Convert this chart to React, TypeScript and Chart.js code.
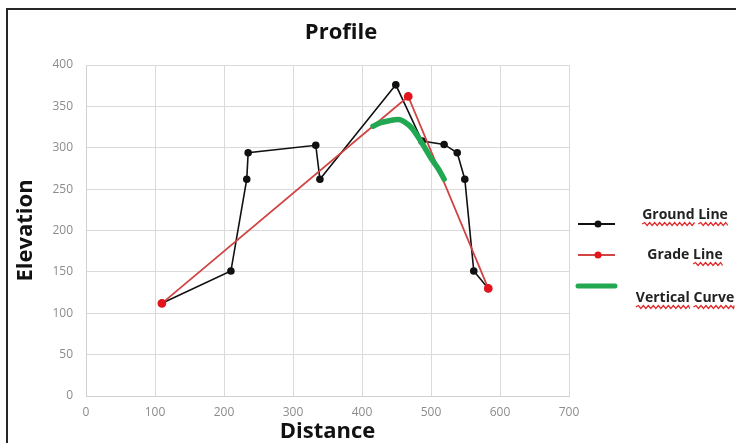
import React, { useEffect, useRef } from "react";
import { Chart, registerables } from "chart.js";

Chart.register(...registerables);

const chartTitle = "Profile";
const xAxisTitle = "Distance";
const yAxisTitle = "Elevation";
const legendLabels = ["Ground Line", "Grade Line", "Vertical Curve"];
// words flagged by the spell-checker (wavy red underline) in each legend label
const legendFlagged = [["Ground", "Line"], ["Line"], ["Vertical", "Curve"]];

const groundX = [110, 210, 233, 235, 333, 339, 449, 487, 519, 538, 549, 562, 583];
const groundY = [112, 151, 262, 294, 303, 262, 376, 308, 304, 294, 262, 151, 130];

const gradeX = [110, 467, 583];
const gradeY = [112, 362, 130];

const curveX = [416, 426, 441, 453, 462, 472, 482, 491, 501, 511, 519];
const curveY = [326, 330, 333, 334, 331, 324, 312, 300, 286, 274, 262];

const xMin = 0, xMax = 700, xStep = 100;
const yMin = 0, yMax = 400, yStep = 50;

const FONT = '"Open Sans", "Liberation Sans", sans-serif';
const GROUND_COLOR = "#111111";
const GRADE_LINE = "#d04444";
const GRADE_POINT = "#e3141c";
const CURVE_COLOR = "#22a852";

const pts = (xs: number[], ys: number[]) => xs.map((x, i) => ({ x, y: ys[i] }));

function wavy(ctx: CanvasRenderingContext2D, x1: number, x2: number, y: number) {
  ctx.beginPath();
  ctx.moveTo(x1, y);
  let up = true;
  for (let x = x1; x < x2; x += 2.5) {
    ctx.lineTo(Math.min(x + 2.5, x2), y + (up ? -1.5 : 1.5));
    up = !up;
  }
  ctx.strokeStyle = "#e02828";
  ctx.lineWidth = 1.2;
  ctx.stroke();
}

const decorPlugin = {
  id: "decor",
  afterDraw(chart: any) {
    const ctx: CanvasRenderingContext2D = chart.ctx;
    ctx.save();
    // outer frame (top & left edges visible)
    ctx.fillStyle = "#262626";
    ctx.fillRect(6, 8, 730, 2);
    ctx.fillRect(6, 8, 2, 435);

    // title
    ctx.fillStyle = "#111";
    ctx.font = `bold 22px ${FONT}`;
    ctx.textAlign = "center";
    ctx.textBaseline = "middle";
    ctx.fillText(chartTitle, 341, 33);

    // legend
    const markerY = [224, 255, 286];
    const textY = [215, 255, 298];
    const lx1 = 578, lx2 = 615, lmx = 598, tx = 685;
    // ground
    ctx.strokeStyle = GROUND_COLOR;
    ctx.lineWidth = 2;
    ctx.beginPath(); ctx.moveTo(lx1, markerY[0]); ctx.lineTo(lx2, markerY[0]); ctx.stroke();
    ctx.fillStyle = GROUND_COLOR;
    ctx.beginPath(); ctx.arc(lmx, markerY[0], 3.5, 0, Math.PI * 2); ctx.fill();
    // grade
    ctx.strokeStyle = GRADE_LINE;
    ctx.beginPath(); ctx.moveTo(lx1, markerY[1]); ctx.lineTo(lx2, markerY[1]); ctx.stroke();
    ctx.fillStyle = GRADE_POINT;
    ctx.beginPath(); ctx.arc(lmx, markerY[1], 3.5, 0, Math.PI * 2); ctx.fill();
    // curve
    ctx.strokeStyle = CURVE_COLOR;
    ctx.lineWidth = 5;
    ctx.lineCap = "round";
    ctx.beginPath(); ctx.moveTo(lx1, markerY[2]); ctx.lineTo(lx2, markerY[2]); ctx.stroke();
    ctx.lineCap = "butt";

    ctx.font = `bold 14px ${FONT}`;
    ctx.textAlign = "left";
    ctx.textBaseline = "middle";
    legendLabels.forEach((label, i) => {
      const w = ctx.measureText(label).width;
      const left = tx - w / 2;
      ctx.fillStyle = "#222";
      ctx.fillText(label, left, textY[i]);
      // spell-check underlines
      let cursor = 0;
      label.split(" ").forEach((word) => {
        const ww = ctx.measureText(word).width;
        if (legendFlagged[i].includes(word)) {
          wavy(ctx, left + cursor, left + cursor + ww, textY[i] + 9);
        }
        cursor += ww + ctx.measureText(" ").width;
      });
    });
    ctx.restore();
  },
};

export default function App() {
  const ref = useRef<HTMLCanvasElement>(null);
  useEffect(() => {
    document.body.style.margin = "0";
    const canvas = ref.current!;
    const chart = new Chart(canvas, {
      type: "line",
      data: {
        datasets: [
          {
            label: legendLabels[2],
            data: pts(curveX, curveY),
            borderColor: CURVE_COLOR,
            borderWidth: 5.5,
            pointRadius: 0,
            cubicInterpolationMode: "monotone",
            borderCapStyle: "round",
            order: 0,
          },
          {
            label: legendLabels[1],
            data: pts(gradeX, gradeY),
            borderColor: GRADE_LINE,
            borderWidth: 1.8,
            pointRadius: 3.5,
            pointBackgroundColor: GRADE_POINT,
            pointBorderColor: GRADE_POINT,
            order: 1,
          },
          {
            label: legendLabels[0],
            data: pts(groundX, groundY),
            borderColor: GROUND_COLOR,
            borderWidth: 1.6,
            pointRadius: 3,
            pointBackgroundColor: GROUND_COLOR,
            pointBorderColor: GROUND_COLOR,
            order: 2,
          },
        ],
      },
      options: {
        responsive: false,
        animation: false,
        devicePixelRatio: 1,
        layout: { padding: { top: 65, right: 167, left: 0, bottom: 0 } },
        plugins: { legend: { display: false }, title: { display: false }, tooltip: { enabled: false } },
        scales: {
          x: {
            type: "linear",
            min: xMin,
            max: xMax,
            ticks: { stepSize: xStep, padding: 9, color: "#8c8c8c", font: { family: FONT, size: 12 } },
            grid: { color: "#dadada", drawTicks: false, lineWidth: 1 },
            border: { color: "#d0d0d0" },
            title: {
              display: true,
              text: xAxisTitle,
              color: "#111",
              font: { family: FONT, size: 22, weight: "bold", lineHeight: 1 },
              padding: { top: 0, bottom: 0 },
            },
            afterFit: (s: any) => { s.height = 443 - 396; },
          },
          y: {
            type: "linear",
            min: yMin,
            max: yMax,
            ticks: { stepSize: yStep, padding: 13, color: "#8c8c8c", font: { family: FONT, size: 12 } },
            grid: { color: "#dadada", drawTicks: false, lineWidth: 1 },
            border: { color: "#d0d0d0" },
            title: {
              display: true,
              text: yAxisTitle,
              color: "#111",
              font: { family: FONT, size: 22, weight: "bold", lineHeight: 1 },
              padding: { top: 15, bottom: 0 },
            },
            afterFit: (s: any) => { s.width = 86; },
          },
        },
      },
      plugins: [decorPlugin],
    } as any);
    return () => chart.destroy();
  }, []);
  return (
    <div style={{ position: "absolute", left: 0, top: 0, width: 736, height: 443, background: "#fff", overflow: "hidden" }}>
      <canvas ref={ref} width={736} height={443} style={{ display: "block" }} />
    </div>
  );
}
